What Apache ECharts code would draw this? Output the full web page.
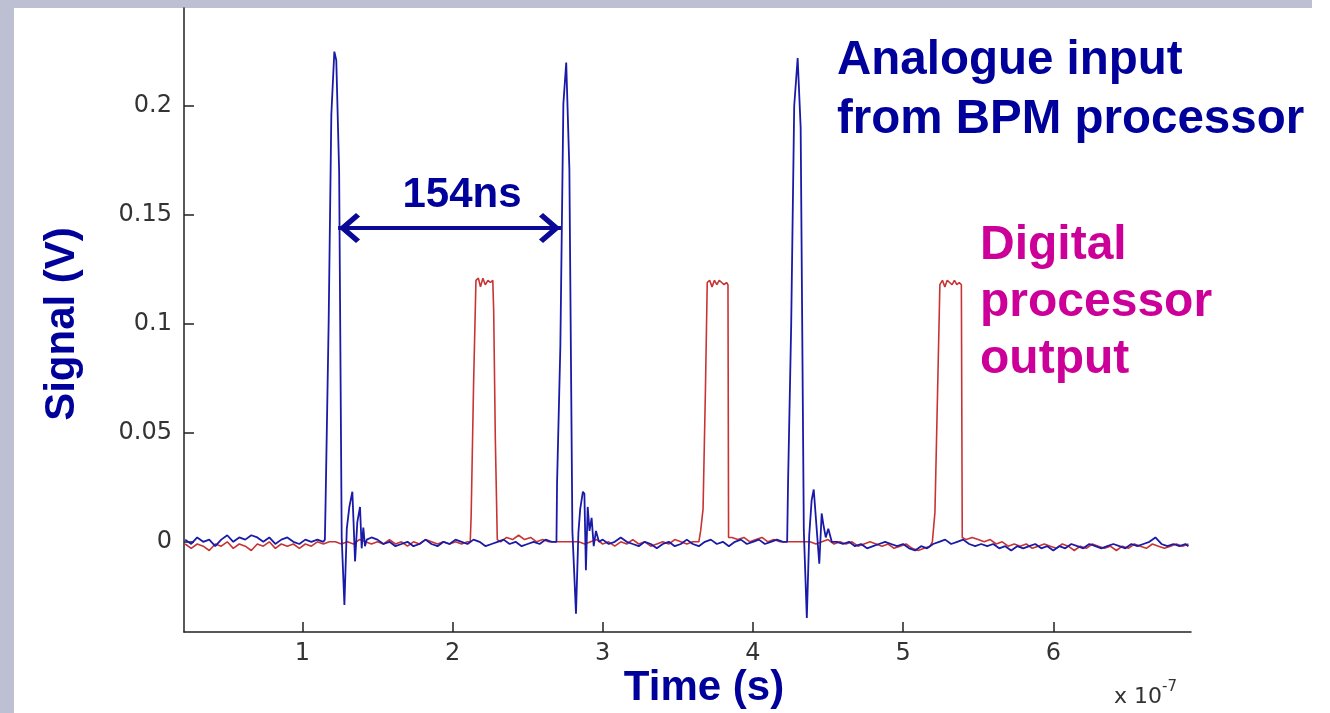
<!DOCTYPE html>
<html>
<head>
<meta charset="utf-8">
<script src="https://cdn.jsdelivr.net/npm/echarts@6/dist/echarts.min.js"></script>
<style>
html,body{margin:0;padding:0;background:#ffffff;}
#chart{width:1330px;height:713px;}
</style>
</head>
<body>
<div id="chart"></div>
<script>
// ---- data (time in units of 1e-7 s, signal in V) ----
var xTicks = [1, 2, 3, 4, 5, 6];
var yTicks = [0, 0.05, 0.1, 0.15, 0.2];
var xRange = [0.212, 6.917];
var yRange = [-0.0414, 0.245];

var analogueInput = [
 [0.22,0.001],[0.26,-0.001],[0.30,0.002],[0.34,0.000],[0.38,0.001],[0.42,-0.002],[0.46,0.001],[0.50,0.003],[0.54,0.000],[0.58,0.002],[0.62,0.001],[0.66,0.003],[0.70,0.002],[0.74,0.000],[0.78,0.002],[0.82,-0.001],[0.86,0.001],[0.90,0.002],[0.94,0.000],[0.98,-0.001],[1.02,0.001],[1.06,0.000],[1.10,0.001],[1.14,0.000],
 [1.150,0.001],[1.155,0.019],[1.175,0.100],[1.193,0.196],[1.213,0.225],[1.226,0.221],[1.245,0.170],[1.262,0.002],[1.280,-0.029],[1.296,0.006],[1.313,0.016],[1.333,0.023],[1.351,-0.009],[1.366,0.009],[1.384,0.016],[1.395,-0.003],[1.406,0.0065],[1.417,-0.002],[1.429,0.001],
 [1.46,0.002],[1.50,0.001],[1.54,-0.001],[1.58,0.000],[1.62,-0.002],[1.66,-0.001],[1.70,0.000],[1.74,-0.002],[1.78,-0.001],[1.82,0.001],[1.86,-0.001],[1.90,-0.002],[1.94,0.000],[1.98,-0.001],[2.02,0.001],[2.06,0.000],[2.10,-0.001],[2.14,0.001],[2.18,0.000],[2.22,-0.002],[2.26,-0.001],[2.30,0.000],[2.34,0.001],[2.38,-0.001],[2.42,0.000],[2.46,-0.002],[2.50,-0.001],[2.54,0.000],[2.58,-0.001],[2.62,0.001],[2.66,0.000],
 [2.692,0.000],[2.696,0.027],[2.718,0.090],[2.738,0.201],[2.757,0.220],[2.778,0.171],[2.798,0.005],[2.822,-0.033],[2.838,0.004],[2.850,0.015],[2.868,0.023],[2.878,0.022],[2.888,-0.013],[2.900,0.016],[2.912,0.005],[2.926,0.011],[2.940,-0.002],[2.955,0.005],[2.975,0.000],
 [3.00,0.001],[3.04,-0.001],[3.08,0.000],[3.12,0.002],[3.16,0.000],[3.20,-0.001],[3.24,-0.002],[3.28,0.000],[3.32,-0.001],[3.36,-0.003],[3.40,-0.001],[3.44,0.000],[3.48,-0.002],[3.52,-0.001],[3.56,0.001],[3.60,-0.001],[3.64,-0.002],[3.68,0.000],[3.72,0.001],[3.76,-0.001],[3.80,0.000],[3.84,-0.002],[3.88,0.000],[3.92,0.001],[3.96,-0.001],[4.00,0.000],[4.04,0.001],[4.08,-0.001],[4.12,0.000],[4.16,0.001],[4.20,0.000],
 [4.228,0.000],[4.234,0.027],[4.255,0.100],[4.275,0.200],[4.298,0.222],[4.318,0.190],[4.339,0.005],[4.359,-0.035],[4.375,0.003],[4.391,0.019],[4.405,0.024],[4.418,0.024],[4.442,-0.010],[4.458,0.013],[4.469,0.008],[4.485,0.002],[4.502,0.006],[4.525,0.000],
 [4.56,0.000],[4.60,-0.001],[4.64,0.000],[4.68,-0.002],[4.72,-0.001],[4.76,-0.003],[4.80,-0.002],[4.84,-0.001],[4.88,0.000],[4.92,-0.001],[4.96,-0.002],[5.00,-0.001],[5.04,-0.003],[5.08,-0.004],[5.12,-0.002],[5.16,-0.003],[5.20,-0.001],[5.24,0.000],[5.28,0.001],[5.32,-0.001],[5.36,0.000],[5.40,0.001],[5.44,-0.001],[5.48,-0.002],[5.52,-0.001],[5.56,-0.002],[5.60,-0.001],[5.64,-0.003],[5.68,-0.002],[5.72,-0.004],[5.76,-0.002],[5.80,-0.003],[5.84,-0.002],[5.88,-0.001],[5.92,-0.003],[5.96,-0.002],[6.00,-0.004],[6.04,-0.002],[6.08,-0.003],[6.12,-0.001],[6.16,-0.002],[6.20,-0.003],[6.24,-0.001],[6.28,-0.002],[6.32,-0.003],[6.36,-0.002],[6.40,-0.001],[6.44,-0.002],[6.48,-0.003],[6.52,-0.001],[6.56,-0.002],[6.60,-0.001],[6.64,0.000],[6.68,0.002],[6.72,-0.001],[6.76,-0.002],[6.80,-0.001],[6.84,-0.002],[6.88,-0.001],[6.90,-0.002]
];

var digitalOutput = [
 [0.22,-0.001],[0.26,-0.003],[0.30,-0.001],[0.34,-0.002],[0.38,-0.004],[0.42,-0.001],[0.46,-0.002],[0.50,0.000],[0.54,-0.003],[0.58,-0.001],[0.62,-0.002],[0.66,-0.004],[0.70,-0.001],[0.74,-0.002],[0.78,0.000],[0.82,-0.003],[0.86,-0.001],[0.90,-0.002],[0.94,-0.001],[0.98,-0.003],[1.02,-0.001],[1.06,-0.002],[1.10,0.000],[1.14,-0.001],[1.18,0.000],[1.22,0.000],[1.26,-0.001],[1.30,0.000],[1.34,-0.001],[1.38,0.001],[1.42,0.000],[1.46,-0.001],[1.50,0.000],[1.54,-0.001],[1.58,0.001],[1.62,-0.001],[1.66,0.000],[1.70,-0.002],[1.74,0.000],[1.78,-0.001],[1.82,0.001],[1.86,0.000],[1.90,-0.001],[1.94,0.000],[1.98,-0.001],[2.02,0.000],[2.06,-0.001],[2.10,0.000],
 [2.118,0.000],[2.124,0.012],[2.140,0.072],[2.156,0.120],[2.172,0.121],[2.186,0.117],[2.202,0.121],[2.218,0.118],[2.236,0.120],[2.252,0.119],[2.268,0.120],[2.274,0.106],[2.285,0.047],[2.298,0.001],
 [2.32,0.000],[2.36,0.002],[2.40,0.001],[2.44,0.003],[2.48,0.001],[2.52,0.002],[2.56,0.000],[2.60,0.001],[2.64,0.000],[2.68,0.000],[2.72,0.000],[2.76,0.000],[2.80,0.000],[2.84,0.000],[2.88,-0.001],[2.92,0.000],[2.96,0.001],[3.00,-0.001],[3.04,0.000],[3.08,-0.002],[3.12,0.000],[3.16,-0.001],[3.20,0.001],[3.24,-0.001],[3.28,0.000],[3.32,-0.002],[3.36,-0.001],[3.40,0.000],[3.44,-0.001],[3.48,0.001],[3.52,0.000],[3.56,-0.001],[3.60,0.000],[3.64,0.000],
 [3.652,0.005],[3.668,0.015],[3.684,0.070],[3.696,0.119],[3.712,0.120],[3.728,0.117],[3.744,0.120],[3.760,0.118],[3.776,0.120],[3.792,0.119],[3.808,0.118],[3.824,0.119],[3.834,0.118],[3.838,0.002],
 [3.86,0.002],[3.90,0.001],[3.94,0.002],[3.98,0.000],[4.02,0.001],[4.06,0.002],[4.10,0.000],[4.14,0.001],[4.18,0.000],[4.22,0.000],[4.26,0.000],[4.30,0.000],[4.34,0.000],[4.38,0.000],[4.42,-0.001],[4.46,0.000],[4.50,0.001],[4.54,-0.001],[4.58,0.000],[4.62,-0.001],[4.66,0.000],[4.70,-0.002],[4.74,-0.001],[4.78,0.000],[4.82,-0.001],[4.86,-0.002],[4.90,-0.001],[4.94,-0.003],[4.98,-0.002],[5.02,-0.001],[5.06,-0.003],[5.10,-0.004],[5.14,-0.003],[5.18,-0.002],[5.195,0.000],
 [5.212,0.0135],[5.230,0.070],[5.245,0.118],[5.262,0.120],[5.278,0.117],[5.294,0.120],[5.310,0.119],[5.326,0.118],[5.342,0.120],[5.358,0.118],[5.374,0.119],[5.388,0.118],[5.394,0.002],
 [5.42,0.001],[5.46,0.002],[5.50,0.001],[5.54,0.000],[5.58,0.001],[5.62,-0.001],[5.66,0.000],[5.70,-0.002],[5.74,-0.001],[5.78,-0.002],[5.82,-0.001],[5.86,-0.003],[5.90,-0.002],[5.94,-0.001],[5.98,-0.002],[6.02,-0.003],[6.06,-0.001],[6.10,-0.002],[6.14,-0.004],[6.18,-0.002],[6.22,-0.003],[6.26,-0.001],[6.30,-0.002],[6.34,-0.003],[6.38,-0.002],[6.42,-0.004],[6.46,-0.002],[6.50,-0.003],[6.54,-0.001],[6.58,-0.002],[6.62,-0.003],[6.66,-0.001],[6.70,-0.002],[6.74,-0.003],[6.78,-0.002],[6.82,-0.001],[6.86,-0.002],[6.90,-0.001]
];

// bunch spacing annotation (154 ns), in data units
var spacingArrowX = [1.238, 2.722];
var spacingArrowY = 0.144;

var NAVY = '#00009a';
var MAGENTA = '#cc0099';
var AXIS = '#222222';
var TICKFONT = {fontFamily: 'DejaVu Sans', fontSize: 24, color: '#333333'};
// chevron whose tip sits at the centre of its box
var chevron = 'path://M15,22 L30,39 L26.5,43 L15,30 L3.5,43 L0,39 Z M15,0 L15.01,0 L15,0.01 Z';

var chart = echarts.init(document.getElementById('chart'), null, {renderer: 'canvas'});
chart.setOption({
  backgroundColor: '#ffffff',
  animation: false,
  grid: {left: 184, right: 139, top: 8, bottom: 81},
  xAxis: {
    type: 'value', min: xRange[0], max: xRange[1],
    axisLine: {show: true, onZero: false, lineStyle: {color: AXIS, width: 1.5}},
    axisTick: {show: true, inside: true, length: 10, customValues: xTicks, lineStyle: {color: AXIS, width: 1.5}},
    axisLabel: Object.assign({customValues: xTicks, margin: 10}, TICKFONT),
    splitLine: {show: false}
  },
  yAxis: {
    type: 'value', min: yRange[0], max: yRange[1],
    axisLine: {show: true, onZero: false, lineStyle: {color: AXIS, width: 1.5}},
    axisTick: {show: true, inside: true, length: 10, customValues: yTicks, lineStyle: {color: AXIS, width: 1.5}},
    axisLabel: Object.assign({customValues: yTicks, margin: 12}, TICKFONT),
    splitLine: {show: false}
  },
  series: [
    {
      name: 'Digital processor output', type: 'line', data: digitalOutput,
      symbol: 'none', showSymbol: false, smooth: false,
      lineStyle: {color: '#c83434', width: 1.6}, itemStyle: {color: '#c83434'}, z: 2
    },
    {
      name: 'Analogue input from BPM processor', type: 'line', data: analogueInput,
      symbol: 'none', showSymbol: false, smooth: false,
      lineStyle: {color: '#1a1aa8', width: 1.8}, itemStyle: {color: '#1a1aa8'}, z: 3,
      markLine: {
        silent: true, animation: false,
        symbol: [chevron, chevron], symbolSize: [30, 44],
        label: {show: false},
        lineStyle: {color: '#0a0a96', width: 4, type: 'solid'},
        emphasis: {disabled: true},
        data: [[{coord: [spacingArrowX[0], spacingArrowY]}, {coord: [spacingArrowX[1], spacingArrowY]}]]
      }
    }
  ],
  graphic: [
    {type: 'rect', shape: {x: 0, y: 0, width: 14, height: 713}, style: {fill: '#bcc0d2'}, silent: true},
    {type: 'rect', shape: {x: 0, y: 0, width: 1312, height: 8}, style: {fill: '#bcc0d2'}, silent: true},
    {type: 'text', x: 837, y: 61, style: {text: 'Analogue input', fill: NAVY, font: 'bold 47.5px "Liberation Sans", Arial, sans-serif', align: 'left', verticalAlign: 'middle'}},
    {type: 'text', x: 837, y: 120, style: {text: 'from BPM processor', fill: NAVY, font: 'bold 47.5px "Liberation Sans", Arial, sans-serif', align: 'left', verticalAlign: 'middle'}},
    {type: 'text', x: 980, y: 246, style: {text: 'Digital', fill: MAGENTA, font: 'bold 48px "Liberation Sans", Arial, sans-serif', align: 'left', verticalAlign: 'middle'}},
    {type: 'text', x: 980, y: 303, style: {text: 'processor', fill: MAGENTA, font: 'bold 48px "Liberation Sans", Arial, sans-serif', align: 'left', verticalAlign: 'middle'}},
    {type: 'text', x: 980, y: 360, style: {text: 'output', fill: MAGENTA, font: 'bold 48px "Liberation Sans", Arial, sans-serif', align: 'left', verticalAlign: 'middle'}},
    {type: 'text', x: 462, y: 195, style: {text: '154ns', fill: NAVY, font: 'bold 42px "Liberation Sans", Arial, sans-serif', align: 'center', verticalAlign: 'middle'}},
    {type: 'text', x: 62, y: 324, rotation: Math.PI / 2, style: {text: 'Signal (V)', fill: NAVY, font: 'bold 42px "Liberation Sans", Arial, sans-serif', align: 'center', verticalAlign: 'middle'}},
    {type: 'text', x: 704, y: 688, style: {text: 'Time (s)', fill: NAVY, font: 'bold 42px "Liberation Sans", Arial, sans-serif', align: 'center', verticalAlign: 'middle'}},
    {type: 'text', x: 1114, y: 694, style: {
      text: '{b|x 10}{s|-7}', align: 'left', verticalAlign: 'middle',
      rich: {
        b: {fontFamily: 'DejaVu Sans', fontSize: 22, fill: '#333333', verticalAlign: 'bottom'},
        s: {fontFamily: 'DejaVu Sans', fontSize: 15, fill: '#333333', verticalAlign: 'top', padding: [0, 0, 13, 0]}
      }
    }}
  ]
});
</script>
</body>
</html>
